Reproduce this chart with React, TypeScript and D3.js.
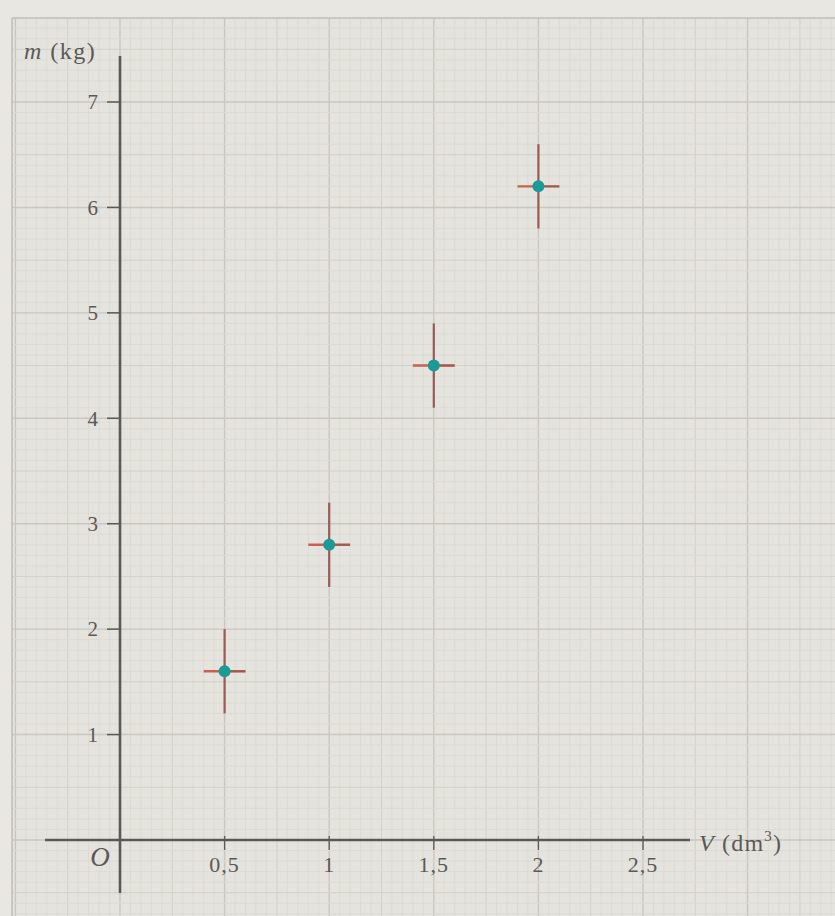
import React from 'react';
import * as d3 from 'd3';

// measured values (V in dm³, m in kg) with their uncertainties
const volumes = [0.5, 1, 1.5, 2];
const masses = [1.6, 2.8, 4.5, 6.2];
const volumeErr = [0.1, 0.1, 0.1, 0.1];
const massErr = [0.4, 0.4, 0.4, 0.4];

const xTicks = [0.5, 1, 1.5, 2, 2.5];
const xTickLabels = ['0,5', '1', '1,5', '2', '2,5'];
const yTicks = [1, 2, 3, 4, 5, 6, 7];

const W = 835;
const H = 916;

const App = () => {
  const x = d3.scaleLinear().domain([0, 2.5]).range([120, 643]);
  const y = d3.scaleLinear().domain([0, 7]).range([840, 102]);

  // millimetre paper: 1 cm = 0.5 dm³ on x and 1 kg on y
  const xMinor = d3.range(-10, 69).map(k => ({ k, px: x(k * 0.05) }));
  const yMinor = d3.range(-7, 79).map(k => ({ k, px: y(k * 0.1) }));

  const gridStroke = (k) => (k % 10 === 0 ? '#c9c7c0' : k % 5 === 0 ? '#d2d0c9' : '#dcdbd4');
  const gridWidth = (k) => (k % 10 === 0 ? 1.4 : 1);

  const ink = '#5b5957';
  const font = '"Liberation Serif", "DejaVu Serif", serif';

  return (
    <svg width={W} height={H} style={{ position: 'absolute', left: 0, top: 0 }}>
      <rect x={0} y={0} width={W} height={H} fill="#e8e7e1" />
      <rect x={12} y={18} width={W - 12} height={H - 18} fill="#e4e3dd" />

      <g>
        {xMinor.filter(d => d.px >= 12 && d.px <= W).map(d => (
          <line key={'gx' + d.k} x1={d.px} x2={d.px} y1={18} y2={H}
            stroke={gridStroke(d.k)} strokeWidth={gridWidth(d.k)} />
        ))}
        {yMinor.filter(d => d.px >= 18 && d.px <= H).map(d => (
          <line key={'gy' + d.k} x1={12} x2={W} y1={d.px} y2={d.px}
            stroke={gridStroke(d.k)} strokeWidth={gridWidth(d.k)} />
        ))}
        <line x1={12} x2={W} y1={18} y2={18} stroke="#c0beb7" strokeWidth={1.5} />
        <line x1={12} x2={12} y1={18} y2={H} stroke="#c0beb7" strokeWidth={1.5} />
      </g>

      {/* axes */}
      <line x1={45} x2={690} y1={y(0)} y2={y(0)} stroke={ink} strokeWidth={2.6} />
      <line x1={x(0)} x2={x(0)} y1={56} y2={893} stroke={ink} strokeWidth={2.6} />

      {yTicks.map(t => (
        <g key={'yt' + t}>
          <line x1={x(0) - 13} x2={x(0)} y1={y(t)} y2={y(t)} stroke={ink} strokeWidth={1.5} />
          <text x={x(0) - 22} y={y(t)} dy="0.35em" textAnchor="end"
            fontFamily={font} fontSize={21} fill={ink}>{t}</text>
        </g>
      ))}

      {xTicks.map((t, i) => (
        <g key={'xt' + t}>
          <line x1={x(t)} x2={x(t)} y1={y(0) - 4} y2={y(0) + 10} stroke={ink} strokeWidth={1.3} />
          <text x={x(t)} y={y(0) + 32} textAnchor="middle" letterSpacing={1}
            fontFamily={font} fontSize={22} fill={ink}>{xTickLabels[i]}</text>
        </g>
      ))}

      <text x={100} y={y(0) + 26} textAnchor="middle" fontFamily={font}
        fontStyle="italic" fontSize={27} fill={ink}>O</text>

      <text x={24} y={59} fontFamily={font} fontSize={24} letterSpacing={1.5} fill={ink}>
        <tspan fontStyle="italic">m</tspan> (kg)
      </text>

      <text x={699} y={y(0) + 11} fontFamily={font} fontSize={24} letterSpacing={1.2} fill={ink}>
        <tspan fontStyle="italic">V</tspan> (dm
        <tspan dy={-10} fontSize={15}>3</tspan>
        <tspan dy={10}>)</tspan>
      </text>

      {/* measurements with error bars */}
      {volumes.map((v, i) => (
        <g key={'p' + i}>
          <line x1={x(v)} x2={x(v)} y1={y(masses[i] - massErr[i])} y2={y(masses[i] + massErr[i])}
            stroke="#9c5a55" strokeWidth={2.2} />
          <line x1={x(v - volumeErr[i])} x2={x(v + volumeErr[i])} y1={y(masses[i])} y2={y(masses[i])}
            stroke="#c9614e" strokeWidth={2.4} />
          <line x1={x(v)} x2={x(v + volumeErr[i])} y1={y(masses[i])} y2={y(masses[i])}
            stroke="#6d5a57" strokeWidth={2} opacity={0.5} />
          <circle cx={x(v)} cy={y(masses[i])} r={6} fill="#1c9a98" />
        </g>
      ))}
    </svg>
  );
};

export default App;
